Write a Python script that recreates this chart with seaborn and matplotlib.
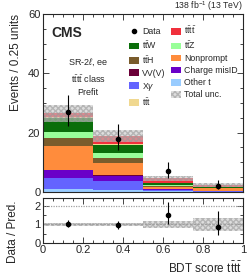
import numpy as np
import matplotlib
matplotlib.use("Agg")
import matplotlib.pyplot as plt
from matplotlib.patches import Patch
from matplotlib.lines import Line2D
from matplotlib.ticker import MultipleLocator
import pandas as pd
import seaborn as sns

sns.set_style("ticks")
plt.rcParams['font.family'] = ['Liberation Sans', 'DejaVu Sans']
plt.rcParams['mathtext.fontset'] = 'custom'
plt.rcParams['mathtext.rm'] = 'Liberation Sans'
plt.rcParams['mathtext.it'] = 'Liberation Sans:italic'

# bins of the BDT score
edges = [0.0, 0.25, 0.5, 0.75, 1.0]
centers = [0.125, 0.375, 0.625, 0.875]

# per-process yields, bottom of stack first
other_t = [0.9, 0.8, 0.45, 0.1]
x_gamma = [3.9, 3.0, 0.33, 0.3]
charge_misid = [2.6, 1.7, 0.22, 0.05]
vvv = [0.1, 0.1, 0.03, 0.02]
nonprompt = [8.0, 4.2, 0.8, 0.8]
tth = [2.8, 1.5, 0.2, 0.1]
ttz = [2.0, 1.7, 0.35, 0.1]
ttw = [4.8, 3.0, 0.55, 0.15]
ttt = [0.1, 0.1, 0.05, 0.05]
tttt = [1.3, 2.7, 1.6, 0.65]

data = [27, 18, 7, 2]
rel_unc = [0.105, 0.105, 0.2, 0.35]

procs = [
    ("Other t", other_t, "#99ccff"),
    ("X$\\gamma$", x_gamma, "#6464ff"),
    ("Charge misID", charge_misid, "#6a00c8"),
    ("VV(V)", vvv, "#6b0038"),
    ("Nonprompt", nonprompt, "#ff8c3c"),
    ("$\\mathrm{t\\bar{t}H}$", tth, "#7a5c2c"),
    ("$\\mathrm{t\\bar{t}Z}$", ttz, "#99ff99"),
    ("$\\mathrm{t\\bar{t}W}$", ttw, "#0a6e0a"),
    ("$\\mathrm{t\\bar{t}t}$", ttt, "#f0d890"),
    ("$\\mathrm{t\\bar{t}t\\bar{t}}$", tttt, "#f0303c"),
]

rows = []
for name, vals, col in procs:
    for c, v in zip(centers, vals):
        rows.append({"score": c, "yield": v, "process": name})
df = pd.DataFrame(rows)
palette = {name: col for name, vals, col in procs}
# seaborn stacks the first hue level on top
hue_order = [p[0] for p in procs][::-1]

total = np.sum([p[1] for p in procs], axis=0)
data = np.array(data, dtype=float)
unc = total * np.array(rel_unc)
err_hi = np.sqrt(data + 0.25) + 0.5
err_lo = np.sqrt(data + 0.25) - 0.5

fig = plt.figure(figsize=(2.49, 2.75), dpi=100)
ax = fig.add_axes([0.173, 0.302, 0.803, 0.647])
rax = fig.add_axes([0.173, 0.1175, 0.803, 0.1625])

sns.histplot(data=df, x="score", weights="yield", hue="process", hue_order=hue_order,
             palette=palette, multiple="stack", bins=edges, element="bars",
             linewidth=0, alpha=1, legend=False, ax=ax)

hatch_kw = dict(step="post", facecolor="#c8c8c8", alpha=0.6, hatch="xxxxxx",
                edgecolor="#9a9a9a", linewidth=0)
ext_tot = np.append(total, total[-1])
ext_unc = np.append(unc, unc[-1])
ax.fill_between(edges, ext_tot - ext_unc, ext_tot + ext_unc, **hatch_kw)
ax.errorbar(centers, data, yerr=[err_lo, err_hi], fmt="o", color="black",
            markersize=3, elinewidth=0.8, capsize=0)

ax.set_xlim(0, 1)
ax.set_ylim(0, 60)
ax.set_xlabel("")
ax.set_ylabel("Events / 0.25 units", fontsize=8.5, loc="top")
ax.tick_params(labelbottom=False)

ext_rel = np.append(rel_unc, rel_unc[-1])
rax.fill_between(edges, 1 - ext_rel, 1 + ext_rel, **hatch_kw)
rax.axhline(1, color="#a0a0a0", linestyle=(0, (2, 1)), linewidth=0.9)
rax.axhline(2, color="#a0a0a0", linestyle=(0, (1, 1)), linewidth=0.9)
rax.errorbar(centers, data / total, yerr=[err_lo / total, err_hi / total], fmt="o",
             color="black", markersize=3, elinewidth=0.8, capsize=0)
rax.set_xlim(0, 1)
rax.set_ylim(0, 2.45)
rax.set_xlabel("BDT score $\\mathrm{t\\bar{t}t\\bar{t}}$", fontsize=8.5, loc="right")
rax.set_ylabel("Data / Pred.", fontsize=8.5)
rax.yaxis.set_label_coords(-0.12, 0.25)
rax.set_yticks([0, 1, 2])

for a in (ax, rax):
    a.tick_params(which="both", direction="in", top=True, right=True, labelsize=8, pad=2)
    a.tick_params(which="major", length=4, width=0.6)
    a.tick_params(which="minor", length=2, width=0.6)
    a.xaxis.set_major_locator(MultipleLocator(0.2))
    a.xaxis.set_minor_locator(MultipleLocator(0.05))
    for s in a.spines.values():
        s.set_linewidth(0.8)
ax.yaxis.set_major_locator(MultipleLocator(20))
ax.yaxis.set_minor_locator(MultipleLocator(5))
rax.yaxis.set_minor_locator(MultipleLocator(0.5))
rax.xaxis.set_major_formatter(matplotlib.ticker.FuncFormatter(lambda v, p: "%g" % v))

ax.text(0.04, 0.93, "CMS", transform=ax.transAxes, fontsize=10, fontweight="bold",
        va="top", ha="left")
ax.text(0.225, 0.76, "SR-2$\\ell$, ee\n$\\mathrm{t\\bar{t}t\\bar{t}}$ class\nPrefit",
        transform=ax.transAxes, fontsize=6.5, ha="center", va="top", linespacing=1.5)
ax.text(1.0, 1.006, "138 fb$^{-1}$ (13 TeV)", transform=ax.transAxes, fontsize=6.2,
        ha="right", va="bottom")

lab = dict((p[0], p) for p in procs)
def patch(name):
    return Patch(facecolor=lab[name][2], edgecolor="none")
unc_patch = Patch(facecolor="#c8c8c8", alpha=0.6, hatch="xxxxxx", edgecolor="#9a9a9a", linewidth=0)
data_handle = Line2D([], [], marker="o", color="black", markersize=3, linestyle="none")
handles = [data_handle, patch("$\\mathrm{t\\bar{t}W}$"), patch("$\\mathrm{t\\bar{t}H}$"),
           patch("VV(V)"), patch("X$\\gamma$"), patch("$\\mathrm{t\\bar{t}t}$"),
           patch("$\\mathrm{t\\bar{t}t\\bar{t}}$"), patch("$\\mathrm{t\\bar{t}Z}$"),
           patch("Nonprompt"), patch("Charge misID"), patch("Other t"), unc_patch]
labels = ["Data", "$\\mathrm{t\\bar{t}W}$", "$\\mathrm{t\\bar{t}H}$", "VV(V)", "X$\\gamma$",
          "$\\mathrm{t\\bar{t}t}$", "$\\mathrm{t\\bar{t}t\\bar{t}}$", "$\\mathrm{t\\bar{t}Z}$",
          "Nonprompt", "Charge misID", "Other t", "Total unc."]
ax.legend(handles, labels, ncol=2, loc="upper right", bbox_to_anchor=(1.0, 0.97),
          frameon=False, fontsize=6.3, handlelength=1.1, handleheight=0.8,
          handletextpad=0.4, labelspacing=0.35, columnspacing=0.6, borderaxespad=0.2)

fig.savefig("out.png", dpi=100)
